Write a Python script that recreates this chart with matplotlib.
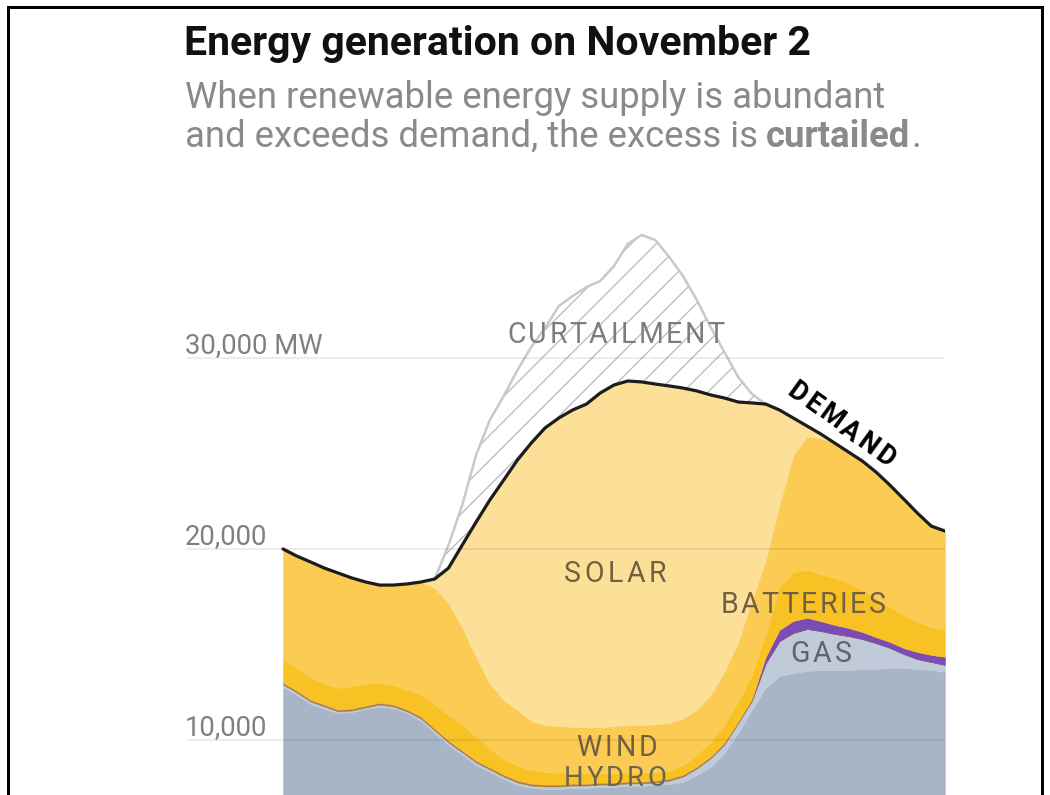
import numpy as np
import matplotlib.pyplot as plt
from matplotlib.patches import Rectangle
from matplotlib.font_manager import FontProperties

# fonts / hatch look
plt.rcParams['font.family'] = ['Roboto', 'DejaVu Sans']
plt.rcParams['hatch.linewidth'] = 1.3

DPI = 75
W, H = 1050, 795

# half-hourly time steps over the day
hours = np.arange(0, 24.5, 0.5)

# generation by source, MW (stacked bottom -> top)
base = [12780, 12360, 11890, 11630, 11420, 11470, 11630, 11730, 11680, 11420,
        11000, 10370, 9740, 9220, 8700, 8330, 7960, 7650, 7490, 7440,
        7440, 7490, 7490, 7540, 7540, 7600, 7600, 7650, 7700, 7800,
        8170, 8590, 9320, 10370, 11580, 12730, 13360, 13510, 13620, 13670,
        13670, 13670, 13720, 13720, 13780, 13780, 13720, 13670, 13570]
gas = [130, 130, 130, 130, 80, 80, 80, 130, 80, 80,
       130, 130, 130, 130, 130, 130, 130, 130, 130, 130,
       130, 130, 130, 130, 130, 130, 130, 130, 180, 290,
       340, 450, 450, 500, 470, 1280, 1830, 2100, 2200, 2040,
       1890, 1780, 1570, 1360, 1050, 730, 520, 420, 370]
hydro = [80, 80, 80, 80, 80, 80, 80, 80, 80, 80,
         80, 80, 80, 80, 80, 80, 80, 80, 80, 80,
         80, 80, 80, 80, 80, 80, 80, 80, 80, 80,
         80, 80, 80, 80, 50, 25, 0, 0, 0, 0,
         0, 0, 0, 0, 0, 0, 0, 0, 0]
other = [0, 0, 0, 0, 0, 0, 0, 0, 0, 0,
         0, 0, 0, 0, 0, 0, 0, 0, 0, 0,
         0, 0, 0, 0, 0, 0, 0, 0, 0, 0,
         0, 0, 0, 0, 50, 310, 580, 630, 580, 520,
         470, 420, 370, 310, 310, 310, 370, 370, 420]
batteries = [1260, 1200, 1200, 1100, 1150, 1200, 1150, 1050, 1050, 1050,
             1150, 1260, 1360, 1360, 1260, 1000, 840, 790, 730, 680,
             630, 580, 580, 520, 520, 470, 470, 470, 420, 520,
             630, 790, 940, 1050, 1260, 1260, 2250, 2570, 2510, 2460,
             2460, 2360, 2200, 2040, 1830, 1730, 1570, 1470, 1410]
wind = [5760, 5870, 6020, 6080, 6020, 5660, 5340, 5130, 5240, 5550,
        5920, 6130, 5870, 5080, 4190, 3400, 3090, 2930, 2570, 2460,
        2460, 2410, 2410, 2410, 2460, 2510, 2510, 2510, 2510, 2460,
        2360, 2460, 2780, 3140, 3930, 3820, 4300, 6130, 6970, 7120,
        7070, 6860, 6760, 6600, 6390, 6080, 5710, 5290, 5190]
solar = [0, 0, 0, 0, 0, 0, 0, 0, 0, 0,
         0, 470, 1830, 4350, 7070, 9640, 11520, 13100, 14560, 15560,
         16130, 16600, 16920, 17490, 17860, 18020, 17970, 17810, 17650, 17290,
         16710, 15710, 14350, 12570, 10320, 8170, 4980, 1940, 580, 210,
         0, 0, 0, 0, 0, 0, 0, 0, 0]

demand = [20010, 19640, 19330, 19010, 18750, 18490, 18280, 18120, 18120, 18180,
          18280, 18440, 19010, 20220, 21420, 22580, 23620, 24670, 25560, 26350,
          26870, 27290, 27600, 28180, 28600, 28810, 28760, 28650, 28550, 28440,
          28290, 28080, 27920, 27710, 27660, 27600, 27290, 26870, 26450, 26030,
          25560, 25090, 24620, 24040, 23360, 22630, 21890, 21210, 20950]
# renewable output above demand that was curtailed
curtailment = [0, 0, 0, 0, 0, 0, 0, 0, 0, 0,
               0, 0, 1200, 2100, 3510, 4190, 4400, 4710, 5030, 5240,
               5870, 5970, 6130, 5870, 6230, 7180, 7700, 7540, 6760, 5870,
               4770, 3560, 2410, 1310, 470, 0, 0, 0, 0, 0,
               0, 0, 0, 0, 0, 0, 0, 0, 0]

ytick_vals = [10000, 20000, 30000]
ytick_labels = ['10,000', '20,000', '30,000 MW']

layer_colors = ['#a8b5c6', '#c0cad8', '#a27c3e', '#7b4cb3',
                '#f8c124', '#fccb54', '#fde098']


def fx(px):
    return px / W


def fy(py):
    return 1 - py / H


def pt(px):
    return px * 72.0 / DPI


# text with extra letter spacing, centred on (x, y) in data coords
def tracked(ax, x, y, s, size_px, track, color, weight='normal', rot=0.0):
    fp = FontProperties(family=['Roboto', 'DejaVu Sans'], size=pt(size_px),
                        weight=weight)
    r = ax.figure.canvas.get_renderer()
    wid = lambda t: r.get_text_width_height_descent(t, fp, ismath=False)[0]
    total = wid(s) + track * (len(s) - 1)
    th = np.radians(rot)
    ux, uy = np.cos(th), np.sin(th)
    px_, py_ = -np.sin(th), np.cos(th)
    cap = 0.711 * size_px
    for k, c in enumerate(s):
        d = -total / 2 + wid(s[:k + 1]) - wid(c) + track * k
        ox = ux * d - px_ * cap / 2
        oy = uy * d - py_ * cap / 2
        ax.annotate(c, xy=(x, y), xytext=(ox, oy), textcoords='offset pixels',
                    ha='left', va='baseline', rotation=rot,
                    rotation_mode='anchor', fontproperties=fp, color=color,
                    zorder=6)


fig = plt.figure(figsize=(W / DPI, H / DPI), dpi=DPI)
fig.patch.set_facecolor('white')

# axes spans the grid lines (x 187..945 px), bottom of image cut at ~7,100 MW
ax = fig.add_axes([fx(187), 0, (945 - 187) / W, (H - 190) / H])
ax.set_xlim(-3.48, 24)
ax.set_ylim(7124, 38814)
ax.axis('off')

ax.stackplot(hours, base, gas, hydro, other, batteries, wind, solar,
             colors=layer_colors, edgecolor='face', linewidth=0.4, zorder=2)

dem = np.array(demand)
top = dem + np.array(curtailment)
ax.fill_between(hours, dem, top, facecolor='white', edgecolor='#bdbdbd',
                hatch='/', linewidth=0, zorder=2)
ax.plot(hours[11:36], top[11:36], color='#c9c9c9', lw=pt(2.5), zorder=3,
        solid_capstyle='round', solid_joinstyle='round')
ax.plot(hours, dem, color='#1c1c1c', lw=pt(3.2), zorder=4,
        solid_capstyle='round', solid_joinstyle='round')

# grid lines + value labels
for val, lab in zip(ytick_vals, ytick_labels):
    ax.axhline(val, color='black', alpha=0.07, lw=pt(2), zorder=5)
    ax.annotate(lab, xy=(0, val), xycoords=('axes fraction', 'data'),
                xytext=(-2, 5), textcoords='offset pixels',
                ha='left', va='baseline', fontsize=pt(27.5),
                color='#808080')

# series labels
brown = '#716041'
tracked(ax, 12.07, 31320, 'CURTAILMENT', 28.5, 2.6, '#7d7d7d')
tracked(ax, 12.04, 18800, 'SOLAR', 28.5, 3.4, brown)
tracked(ax, 18.85, 17180, 'BATTERIES', 28.5, 2.5, brown)
tracked(ax, 19.5, 14610, 'GAS', 28.5, 3.0, '#5b6672')
tracked(ax, 12.1, 9720, 'WIND', 28.5, 3.0, brown)
tracked(ax, 12.04, 8110, 'HYDRO', 27.5, 3.0, '#6a6650')
tracked(ax, 20.27, 26610, 'DEMAND', 27, 3.0, 'black', weight='bold', rot=-36)

# title + subtitle
fig.text(fx(184), fy(55), 'Energy generation on November 2', fontsize=pt(41),
         fontweight='bold', color='#111111', va='baseline')
fig.text(fx(185), fy(108), 'When renewable energy supply is abundant',
         fontsize=pt(36.5), color='#8a8a8a', va='baseline')
t1 = fig.text(fx(185), fy(147), 'and exceeds demand, the excess is',
              fontsize=pt(36.5), color='#8a8a8a', va='baseline')
fig.canvas.draw()
r = fig.canvas.get_renderer()
x1 = t1.get_window_extent(r).x1 + 8
t2 = fig.text(fx(x1), fy(147), 'curtailed', fontsize=pt(36.5), color='#8a8a8a',
              fontweight='bold', va='baseline')
x2 = t2.get_window_extent(r).x1 + 1
fig.text(fx(x2), fy(147), '.', fontsize=pt(36.5), color='#8a8a8a', va='baseline')

# frame around the graphic
fig.patches.append(Rectangle((fx(8), -0.05), (1042 - 8) / W, fy(7) + 0.05,
                             transform=fig.transFigure, fill=False,
                             ec='black', lw=pt(3)))

fig.savefig('out.png', dpi=DPI)
